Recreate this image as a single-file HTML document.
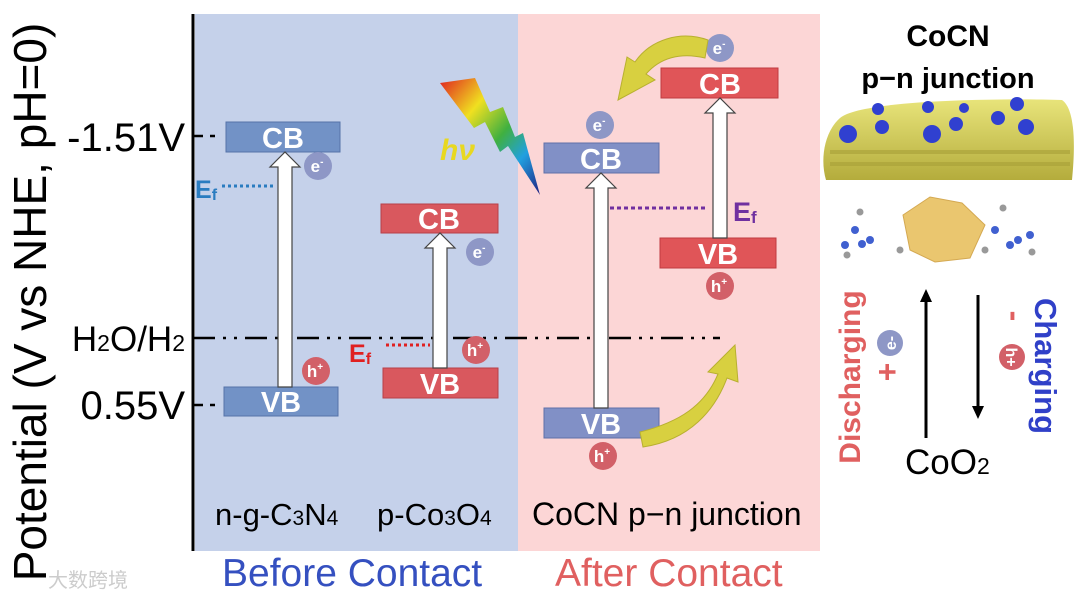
<!DOCTYPE html>
<html><head><meta charset="utf-8"><style>
html,body{margin:0;padding:0;background:#fff}
svg{display:block}
text{font-family:"Liberation Sans",Arial,sans-serif}
</style></head><body>
<svg width="1080" height="601" viewBox="0 0 1080 601" xmlns="http://www.w3.org/2000/svg">
<defs>
<linearGradient id="bolt" x1="0" y1="0" x2="1" y2="1">
<stop offset="0" stop-color="#e02020"/><stop offset="0.3" stop-color="#f0e020"/><stop offset="0.55" stop-color="#40b040"/><stop offset="0.75" stop-color="#20a0e0"/><stop offset="1" stop-color="#202080"/>
</linearGradient>
<linearGradient id="slab" x1="0" y1="0" x2="0" y2="1">
<stop offset="0" stop-color="#e8e47a"/><stop offset="1" stop-color="#b4ac3c"/>
</linearGradient>
</defs>
<rect x="195" y="14" width="323" height="537" fill="#c5d1ea"/>
<rect x="518" y="14" width="302" height="537" fill="#fcd6d6"/>
<line x1="193" y1="14" x2="193" y2="551" stroke="#000" stroke-width="3"/>
<g stroke="#000" stroke-width="2.5">
<line x1="193" y1="136" x2="203" y2="136"/><line x1="210" y1="136" x2="215" y2="136"/>
<line x1="193" y1="405" x2="203" y2="405"/><line x1="210" y1="405" x2="215" y2="405"/>
</g>
<line x1="193" y1="338" x2="720" y2="338" stroke="#000" stroke-width="2.5" stroke-dasharray="22,8,3,8,3,8"/>
<text transform="translate(46,302) rotate(-90)" font-size="46" text-anchor="middle">Potential (V vs NHE, pH=0)</text>
<text x="185" y="151" font-size="40" text-anchor="end">-1.51V</text>
<text x="185" y="351" font-size="35" text-anchor="end">H<tspan font-size="23">2</tspan>O/H<tspan font-size="23">2</tspan></text>
<text x="185" y="419" font-size="40" text-anchor="end">0.55V</text>
<g font-weight="bold" font-size="29" fill="#fff" text-anchor="middle">
<rect x="226" y="122" width="114" height="30" fill="#7292c6" stroke="#5572a8"/><text x="283" y="148">CB</text>
<rect x="224" y="387" width="114" height="29" fill="#7292c6" stroke="#5572a8"/><text x="281" y="412">VB</text>
<rect x="381" y="204" width="117" height="29" fill="#d9585e" stroke="#b84048"/><text x="439" y="229">CB</text>
<rect x="383" y="368" width="115" height="30" fill="#d9585e" stroke="#b84048"/><text x="440" y="394">VB</text>
<rect x="544" y="143" width="115" height="30" fill="#8190c6" stroke="#6070a8"/><text x="601" y="169">CB</text>
<rect x="544" y="408" width="115" height="30" fill="#8190c6" stroke="#6070a8"/><text x="601" y="434">VB</text>
<rect x="661" y="68" width="117" height="30" fill="#e05558" stroke="#c03a40"/><text x="720" y="94">CB</text>
<rect x="660" y="238" width="116" height="30" fill="#e05558" stroke="#c03a40"/><text x="718" y="264">VB</text>
</g>
<g fill="#fff" stroke="#444" stroke-width="1.2">
<path d="M278,387 L278,167 L270,167 L285,152 L300,167 L292,167 L292,387 Z"/>
<path d="M433,368 L433,248 L425,248 L440,233 L455,248 L447,248 L447,368 Z"/>
<path d="M594,408 L594,188 L586,188 L601,173 L616,188 L608,188 L608,408 Z"/>
<path d="M713,238 L713,113 L705,113 L720,98 L735,113 L727,113 L727,238 Z"/>
</g>
<line x1="222" y1="186" x2="276" y2="186" stroke="#2a7cc0" stroke-width="3" stroke-dasharray="3,3"/>
<text x="195" y="198" font-size="25" font-weight="bold" fill="#2a7cc0">E<tspan font-size="16" dy="2">f</tspan></text>
<line x1="386" y1="345" x2="430" y2="345" stroke="#e02020" stroke-width="3" stroke-dasharray="3,3"/>
<text x="349" y="362" font-size="25" font-weight="bold" fill="#e02020">E<tspan font-size="16" dy="2">f</tspan></text>
<line x1="610" y1="208" x2="707" y2="208" stroke="#7030a0" stroke-width="3" stroke-dasharray="4,3"/>
<text x="733" y="221" font-size="27" font-weight="bold" fill="#7030a0">E<tspan font-size="17" dy="2">f</tspan></text>
<g font-size="17" font-weight="bold" fill="#fff" text-anchor="middle">
<circle cx="318" cy="166" r="14" fill="#8e97c6"/><text x="317" y="172">e<tspan font-size="10" dy="-7">-</tspan></text>
<circle cx="480" cy="252" r="14" fill="#8e97c6"/><text x="479" y="258">e<tspan font-size="10" dy="-7">-</tspan></text>
<circle cx="600" cy="125" r="14" fill="#8e97c6"/><text x="599" y="131">e<tspan font-size="10" dy="-7">-</tspan></text>
<circle cx="720" cy="48" r="14" fill="#8e97c6"/><text x="719" y="54">e<tspan font-size="10" dy="-7">-</tspan></text>
<circle cx="316" cy="371" r="14" fill="#d26068"/><text x="315" y="377">h<tspan font-size="10" dy="-7">+</tspan></text>
<circle cx="476" cy="350" r="14" fill="#d26068"/><text x="475" y="356">h<tspan font-size="10" dy="-7">+</tspan></text>
<circle cx="603" cy="456" r="14" fill="#d26068"/><text x="602" y="462">h<tspan font-size="10" dy="-7">+</tspan></text>
<circle cx="720" cy="286" r="14" fill="#d26068"/><text x="719" y="292">h<tspan font-size="10" dy="-7">+</tspan></text>
</g>
<path d="M440,83 L475,78 L490,112 L503,107 L515,137 L523,133 L540,195 L508,146 L500,152 L485,122 L474,128 Z" fill="url(#bolt)"/>
<text x="440" y="160" font-family="Liberation Serif,serif" font-style="italic" font-weight="bold" font-size="30" fill="#e8d820">hν</text>
<path d="M708,40 C680,30 650,40 635,62 L627,57 L618,100 L655,80 L646,74 C660,58 680,52 705,58 Z" fill="#d8d040" stroke="#b8b030" stroke-width="1"/>
<path d="M643,447 C690,440 715,410 727,378 L738,382 L735,345 L708,372 L718,374 C705,405 680,422 640,432 Z" fill="#d8d040" stroke="#b8b030" stroke-width="1"/>
<text x="215" y="525" font-size="31">n-g-C<tspan font-size="21">3</tspan>N<tspan font-size="21">4</tspan></text>
<text x="377" y="525" font-size="31">p-Co<tspan font-size="21">3</tspan>O<tspan font-size="21">4</tspan></text>
<text x="532" y="525" font-size="32">CoCN p−n junction</text>
<text x="222" y="586" font-size="39" fill="#3550c0">Before Contact</text>
<text x="555" y="586" font-size="39" fill="#e06060">After Contact</text>
<text x="948" y="46" font-size="30" font-weight="bold" text-anchor="middle">CoCN</text>
<text x="948" y="88" font-size="29" font-weight="bold" text-anchor="middle">p−n junction</text>
<path d="M840,118 C860,100 1000,98 1062,100 C1074,108 1076,140 1072,180 L826,180 C820,160 824,132 840,118 Z" fill="url(#slab)"/>
<g fill="#a8a038" opacity="0.6"><rect x="830" y="150" width="240" height="4"/><rect x="830" y="162" width="240" height="4"/></g>
<g fill="#3040d0">
<circle cx="878" cy="109" r="6"/><circle cx="928" cy="107" r="6"/><circle cx="964" cy="108" r="5"/><circle cx="1017" cy="104" r="7"/>
<circle cx="882" cy="127" r="7"/><circle cx="956" cy="124" r="7"/><circle cx="998" cy="118" r="7"/><circle cx="1026" cy="127" r="8"/>
<circle cx="848" cy="134" r="9"/><circle cx="932" cy="134" r="9"/>
</g>
<g fill="#e8c060" stroke="#d0a040" stroke-width="1" opacity="0.9">
<polygon points="903,215 930,197 962,203 985,225 970,258 935,262 910,250"/>
</g>
<g fill="#4060d0"><circle cx="855" cy="230" r="4"/><circle cx="870" cy="240" r="4"/><circle cx="845" cy="245" r="4"/><circle cx="862" cy="244" r="4"/><circle cx="995" cy="230" r="4"/><circle cx="1010" cy="245" r="4"/><circle cx="1030" cy="235" r="4"/><circle cx="1018" cy="240" r="4"/></g>
<g fill="#999"><circle cx="860" cy="212" r="3.5"/><circle cx="847" cy="255" r="3.5"/><circle cx="900" cy="250" r="3.5"/><circle cx="1003" cy="208" r="3.5"/><circle cx="985" cy="250" r="3.5"/><circle cx="1032" cy="252" r="3.5"/></g>
<g stroke="#000" stroke-width="3" fill="#000">
<line x1="926" y1="438" x2="926" y2="300"/><polygon points="920,302 926,289 932,302" stroke="none"/>
<line x1="978" y1="295" x2="978" y2="408"/><polygon points="972,406 978,419 984,406" stroke="none"/>
</g>
<text transform="translate(860,377) rotate(-90)" font-size="30" font-weight="bold" fill="#e06060" text-anchor="middle">Discharging</text>
<text transform="translate(1035,366) rotate(90)" font-size="31" font-weight="bold" fill="#3040c8" text-anchor="middle">Charging</text>
<circle cx="890" cy="343" r="13" fill="#8e97c6"/>
<text transform="translate(896,343) rotate(-90)" font-size="16" font-weight="bold" fill="#fff" text-anchor="middle">e-</text>
<text transform="translate(898,372) rotate(-90)" font-size="32" font-weight="bold" fill="#e06060" text-anchor="middle">+</text>
<circle cx="1012" cy="357" r="13" fill="#d26068"/>
<text transform="translate(1006,357) rotate(90)" font-size="16" font-weight="bold" fill="#fff" text-anchor="middle">h+</text>
<text transform="translate(1004,316) rotate(90)" font-size="32" font-weight="bold" fill="#e06060" text-anchor="middle">-</text>
<text x="905" y="474" font-size="35">CoO<tspan font-size="23">2</tspan></text>
<text x="48" y="587" font-size="20" fill="#ccc" font-family="Liberation Sans,Noto Sans CJK SC,sans-serif">大数跨境</text>
</svg>
</body></html>
